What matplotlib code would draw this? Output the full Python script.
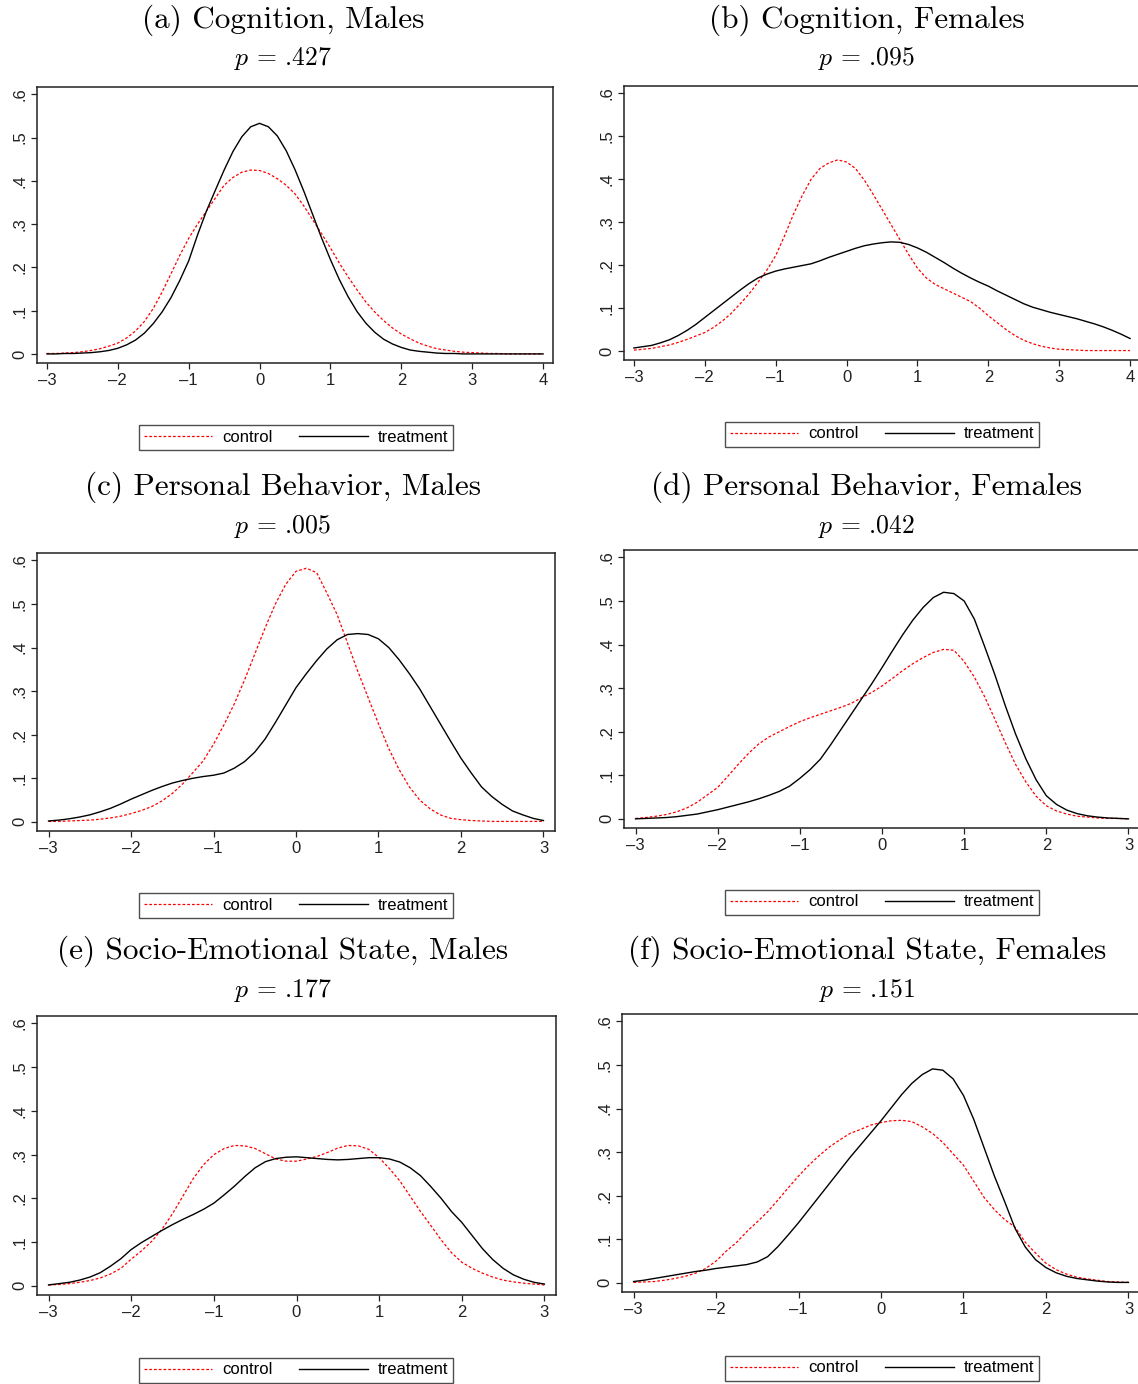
import matplotlib
matplotlib.use("Agg")
import matplotlib.pyplot as plt

x7 = [-3, -2.875, -2.75, -2.625, -2.5, -2.375, -2.25, -2.125,
      -2, -1.875, -1.75, -1.625, -1.5, -1.375, -1.25, -1.125,
      -1, -0.875, -0.75, -0.625, -0.5, -0.375, -0.25, -0.125,
      0, 0.125, 0.25, 0.375, 0.5, 0.625, 0.75, 0.875,
      1, 1.125, 1.25, 1.375, 1.5, 1.625, 1.75, 1.875,
      2, 2.125, 2.25, 2.375, 2.5, 2.625, 2.75, 2.875,
      3, 3.125, 3.25, 3.375, 3.5, 3.625, 3.75, 3.875,
      4]
x6 = x7[:49]

# (a) Cognition, Males
cog_m_ctrl = [.001, .001, .002, .003, .005, .008, .012, .018,
              .025, .037, .053, .075, .105, .143, .185, .228,
              .267, .3, .33, .36, .39, .408, .42, .425,
              .424, .417, .405, .39, .37, .342, .31, .278,
              .245, .21, .178, .148, .12, .097, .077, .06,
              .046, .035, .025, .018, .012, .009, .006, .004,
              .003, .002, .001, .001, 0, 0, 0, 0,
              0]
cog_m_trt = [0, 0, .001, .001, .002, .003, .005, .008,
             .013, .021, .032, .048, .07, .097, .13, .17,
             .215, .275, .33, .378, .425, .468, .502, .525,
             .533, .525, .504, .47, .426, .376, .322, .268,
             .218, .172, .132, .098, .071, .05, .034, .023,
             .015, .009, .006, .004, .002, .001, .001, 0,
             0, 0, 0, 0, 0, 0, 0, 0,
             0]
# (b) Cognition, Females
cog_f_ctrl = [.002, .004, .006, .01, .014, .02, .027, .035,
              .043, .055, .07, .088, .11, .133, .16, .188,
              .222, .268, .318, .362, .4, .425, .438, .445,
              .44, .425, .398, .365, .33, .295, .26, .225,
              .193, .17, .155, .145, .135, .125, .115, .1,
              .082, .066, .05, .036, .025, .017, .011, .007,
              .004, .003, .002, .001, .001, .001, .001, .001,
              .001]
cog_f_trt = [.007, .01, .013, .019, .026, .036, .048, .062,
             .078, .094, .11, .126, .142, .157, .17, .179,
             .186, .191, .195, .199, .203, .21, .218, .225,
             .232, .239, .245, .249, .252, .254, .253, .248,
             .24, .23, .218, .206, .193, .181, .17, .16,
             .151, .14, .13, .12, .11, .102, .096, .09,
             .085, .08, .075, .069, .063, .056, .048, .039,
             .029]
# (c) Personal Behavior, Males
beh_m_ctrl = [.001, .001, .002, .003, .004, .006, .009, .013,
              .019, .026, .035, .048, .065, .087, .113, .14,
              .178, .222, .27, .325, .385, .445, .5, .545,
              .575, .582, .572, .525, .475, .41, .345, .285,
              .225, .168, .12, .08, .05, .03, .016, .008,
              .005, .003, .002, .001, .001, .001, .001, .001,
              .001]
beh_m_trt = [.002, .004, .007, .011, .016, .023, .031, .041,
             .052, .062, .072, .081, .089, .095, .1, .104,
             .107, .112, .123, .138, .16, .19, .228, .268,
             .308, .34, .37, .397, .418, .43, .432, .43,
             .42, .4, .372, .34, .305, .265, .225, .185,
             .146, .112, .08, .058, .04, .025, .016, .008,
             .003]
# (d) Personal Behavior, Females
beh_f_ctrl = [.001, .003, .006, .01, .016, .025, .038, .055,
              .072, .098, .125, .15, .172, .188, .2, .212,
              .223, .232, .24, .248, .256, .265, .278, .29,
              .305, .322, .34, .356, .37, .382, .389, .387,
              .361, .325, .28, .228, .175, .125, .085, .052,
              .03, .018, .011, .006, .004, .002, .001, .001,
              0]
beh_f_trt = [0, .001, .002, .003, .005, .008, .011, .016,
             .021, .027, .033, .039, .046, .054, .063, .075,
             .093, .113, .137, .17, .205, .24, .275, .31,
             .347, .385, .422, .456, .485, .508, .52, .517,
             .5, .458, .395, .33, .26, .195, .138, .09,
             .053, .033, .02, .012, .007, .004, .002, .001,
             0]
# (e) Socio-Emotional State, Males
soc_m_ctrl = [.002, .003, .005, .008, .012, .018, .027, .04,
              .061, .08, .102, .13, .165, .205, .245, .277,
              .3, .314, .321, .32, .314, .302, .29, .285,
              .285, .29, .296, .305, .315, .321, .32, .312,
              .293, .268, .24, .205, .17, .138, .105, .076,
              .054, .04, .029, .02, .013, .009, .006, .004,
              .002]
soc_m_trt = [.002, .005, .008, .013, .02, .03, .045, .062,
             .083, .099, .113, .127, .14, .152, .163, .175,
             .189, .208, .228, .25, .27, .284, .291, .294,
             .295, .293, .291, .289, .288, .289, .291, .293,
             .293, .29, .283, .27, .252, .227, .2, .17,
             .145, .115, .085, .06, .04, .025, .015, .008,
             .004]
# (f) Socio-Emotional State, Females
soc_f_ctrl = [.001, .002, .003, .006, .01, .015, .022, .033,
              .05, .073, .093, .118, .14, .163, .19, .218,
              .245, .27, .292, .312, .328, .343, .352, .362,
              .368, .372, .373, .37, .358, .343, .322, .296,
              .27, .233, .196, .168, .145, .128, .093, .068,
              .045, .03, .02, .013, .009, .006, .003, .002,
              .001]
soc_f_trt = [.003, .006, .01, .014, .018, .022, .026, .029,
             .033, .036, .039, .042, .048, .06, .083, .11,
             .138, .168, .198, .228, .258, .288, .316, .344,
             .372, .402, .432, .458, .478, .491, .488, .468,
             .43, .375, .31, .245, .186, .125, .082, .053,
             .035, .023, .015, .01, .007, .004, .002, .001,
             .001]

titles = ["(a) Cognition, Males", "(b) Cognition, Females",
          "(c) Personal Behavior, Males", "(d) Personal Behavior, Females",
          "(e) Socio-Emotional State, Males", "(f) Socio-Emotional State, Females"]
pvals = [".427", ".095", ".005", ".042", ".177", ".151"]
xgrids = [x7, x7, x6, x6, x6, x6]
controls = [cog_m_ctrl, cog_f_ctrl, beh_m_ctrl, beh_f_ctrl, soc_m_ctrl, soc_f_ctrl]
treats = [cog_m_trt, cog_f_trt, beh_m_trt, beh_f_trt, soc_m_trt, soc_f_trt]

plt.rcParams["mathtext.fontset"] = "cm"
sans = "Liberation Sans"

W, H = 1138, 1384
fig = plt.figure(figsize=(W / 100, H / 100), dpi=100)

# axes boxes in pixels: left, top, right, bottom
boxes = [(37, 87, 553, 363), (624, 86, 1140, 360),
         (37, 553, 555, 831), (624, 550, 1140, 828),
         (37, 1016, 556, 1295), (622, 1014, 1140, 1292)]
title_x = [283, 867, 283, 867, 283, 867]
title_y = [20, 20, 487, 487, 951, 951]
sub_y = [59, 59, 526, 526, 991, 991]
legend_xy = [(296, 437), (882, 434), (296, 905), (882, 902), (296, 1370), (882, 1368)]

for i in range(6):
    l, t, r, b = boxes[i]
    ax = fig.add_axes([l / W, 1 - b / H, (r - l) / W, (b - t) / H])
    xs = xgrids[i]
    ax.plot(xs, controls[i], color="red", lw=0.9, linestyle=(0, (2.2, 1.6)), label="control")
    ax.plot(xs, treats[i], color="black", lw=1.0, label="treatment")

    xmax = xs[-1]
    ax.set_xlim(-3 - 0.14, xmax + 0.14)
    ax.set_ylim(-0.021, 0.617)
    xt = list(range(-3, int(xmax) + 1))
    ax.set_xticks(xt)
    ax.set_xticklabels([("\u2013" + str(-v)) if v < 0 else str(v) for v in xt],
                       fontfamily=sans, fontsize=12)
    yt = [0, .1, .2, .3, .4, .5, .6]
    ax.set_yticks(yt)
    ax.set_yticklabels(["0", ".1", ".2", ".3", ".4", ".5", ".6"], fontfamily=sans,
                       fontsize=12, rotation=90, va="center")
    ax.tick_params(direction="out", length=4, width=0.9, colors="#222222", pad=3)
    for s in ax.spines.values():
        s.set_linewidth(1.1)
        s.set_color("#222222")

    fig.text(title_x[i] / W, 1 - title_y[i] / H, titles[i], fontfamily="cmr10",
             fontsize=22.5, ha="center", va="center")
    fig.text(title_x[i] / W, 1 - sub_y[i] / H, r"$p$ = " + pvals[i],
             fontsize=18.5, ha="center", va="center", fontfamily="cmr10")

    lx, ly = legend_xy[i]
    leg = ax.legend(loc="center", bbox_to_anchor=(lx / W, 1 - ly / H),
                    bbox_transform=fig.transFigure, ncol=2, frameon=True,
                    fancybox=False, prop={"family": sans, "size": 12},
                    handlelength=4.1, handletextpad=0.6, columnspacing=1.6,
                    borderpad=0.3, borderaxespad=0)
    leg.get_frame().set_edgecolor("#222222")
    leg.get_frame().set_linewidth(1.0)

fig.savefig("out.png", dpi=100)
